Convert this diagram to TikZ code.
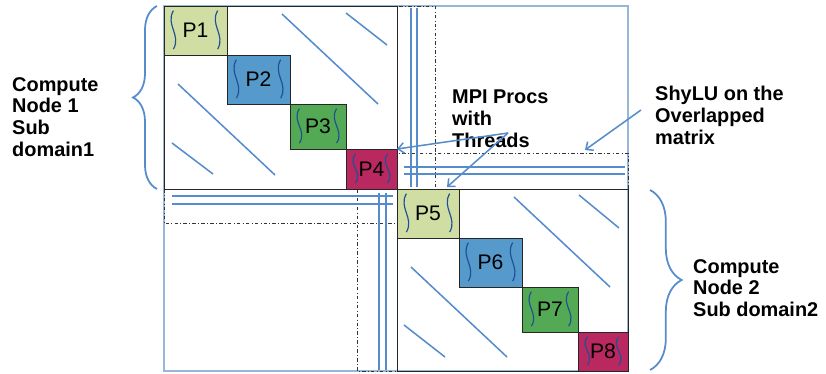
\documentclass[tikz,border=0pt]{standalone}
\usepackage{fontspec}
\setmainfont{Liberation Sans}
\usetikzlibrary{arrows.meta,decorations.pathreplacing}

\definecolor{pgreenlight}{RGB}{209,222,163}
\definecolor{pblue}{RGB}{86,153,203}
\definecolor{pgreen}{RGB}{84,170,84}
\definecolor{pmagenta}{RGB}{186,40,96}
\definecolor{lineblue}{RGB}{86,140,204}
\definecolor{frameblue}{RGB}{150,182,218}
\definecolor{squigblue}{RGB}{30,80,150}

\tikzset{
	pbox/.style={rectangle, draw=black!85, line width=0.8pt, inner sep=0pt, outer sep=0pt, text centered, font=\fontsize{18}{20}\selectfont},
	squig/.style={draw=squigblue, line width=1pt},
	diagline/.style={lineblue, line width=1.3pt},
	dblline/.style={lineblue, line width=1.3pt},
	overlap/.style={draw=black!80, line width=0.6pt, dash dot},
	callout/.style={lineblue, line width=1.3pt, -{Straight Barb[length=5pt,width=9pt]}},
	lbl/.style={align=left, inner sep=0pt, anchor=north west, font=\bfseries\fontsize{17}{18.5}\selectfont},
	domainbrace/.style={lineblue, line width=1.5pt, decorate, decoration={brace, amplitude=#1}}
}

\begin{document}
\begin{tikzpicture}[x=0.03cm, y=-0.03cm]
		\useasboundingbox (0,0) rectangle (826,374);
		
		%Outer frame
		\draw[frameblue, line width=1pt] (164,6) rectangle (628,371);
		
		%Overlap strips
		\draw[overlap] (397,6) rectangle (435,189);
		\draw[overlap] (397,153) rectangle (628,189);
		\draw[overlap] (164,189) rectangle (397,223);
		\draw[overlap] (357,189) rectangle (397,371);
		
		%Double lines
		\foreach \x in {411,417} \draw[dblline] (\x,8) -- (\x,187);
		\foreach \y in {167,174} \draw[dblline] (404,\y) -- (625,\y);
		\foreach \y in {196,204} \draw[dblline] (172,\y) -- (393,\y);
		\foreach \x in {379,386} \draw[dblline] (\x,193) -- (\x,370);
		
		%Sub domain blocks
		\draw[black!85, line width=0.8pt] (164,6) rectangle (397,189);
		\draw[black!85, line width=0.8pt] (397,189) rectangle (628,371);
		
		%First block
		\node (p1) at (195.5,30.5) [pbox, fill=pgreenlight, minimum width=1.89cm, minimum height=1.47cm]{P1};
		\node (p2) at (258.5,79.5) [pbox, fill=pblue, minimum width=1.89cm, minimum height=1.47cm]{P2};
		\node (p3) at (318,126.5) [pbox, fill=pgreen, minimum width=1.68cm, minimum height=1.35cm]{P3};
		\node (p4) at (371.5,169) [pbox, fill=pmagenta, minimum width=1.53cm, minimum height=1.2cm]{P4};
		
		%Second block
		\node (p5) at (428,213.5) [pbox, fill=pgreenlight, minimum width=1.86cm, minimum height=1.47cm]{P5};
		\node (p6) at (490.5,262.5) [pbox, fill=pblue, minimum width=1.89cm, minimum height=1.47cm]{P6};
		\node (p7) at (550,309.5) [pbox, fill=pgreen, minimum width=1.68cm, minimum height=1.35cm]{P7};
		\node (p8) at (603,351.5) [pbox, fill=pmagenta, minimum width=1.5cm, minimum height=1.17cm]{P8};
		
		%Threads
		\foreach \p/\c in {p1/12pt,p2/12pt,p3/11pt,p4/9pt,p5/12pt,p6/12pt,p7/11pt,p8/9pt}{
			\draw[squig] ([xshift=8pt,yshift=-4pt]\p.north west) .. controls +(-7pt,-\c) and +(7pt,\c) .. ([xshift=8pt,yshift=5pt]\p.south west);
			\draw[squig] ([xshift=-8pt,yshift=-4pt]\p.north east) .. controls +(-7pt,-\c) and +(7pt,\c) .. ([xshift=-8pt,yshift=5pt]\p.south east);
		}
		
		%Off diagonal entries
		\draw[diagline] (282,14) -- (378,104);
		\draw[diagline] (346,13) -- (387,45);
		\draw[diagline] (178,84) -- (275,175);
		\draw[diagline] (172,143) -- (213,174);
		\draw[diagline] (514,197) -- (610,287);
		\draw[diagline] (579,195) -- (619,228);
		\draw[diagline] (411,267) -- (507,357);
		\draw[diagline] (404,325) -- (445,357);
		
		%Labels
		\node (node1) at (12,77) [lbl]{Compute\\Node 1\\Sub\\domain1};
		\node (node2) at (693,259) [lbl]{Compute\\Node 2\\Sub domain2};
		\node (mpi) at (452,90) [lbl]{MPI Procs\\with\\Threads};
		\node (shylu) at (655,86) [lbl]{ShyLU on the\\Overlapped\\matrix};
		
		%Arrows
		\coordinate (mpifoot) at (508,133);
		\coordinate (p5tip) at (447,187);
		\coordinate (shylufoot) at (641,110);
		\coordinate (ovltip) at (585,150);
		\draw[callout] (mpifoot) -- (p4.north east);
		\draw[callout] (mpifoot) -- (p5tip);
		\draw[callout] (shylufoot) -- (ovltip);
		
		%Braces
		\draw[domainbrace=0.72cm] (157,189) -- (157,6);
		\draw[domainbrace=0.95cm] (650,190) -- (650,370);
		
\end{tikzpicture}
\end{document}
